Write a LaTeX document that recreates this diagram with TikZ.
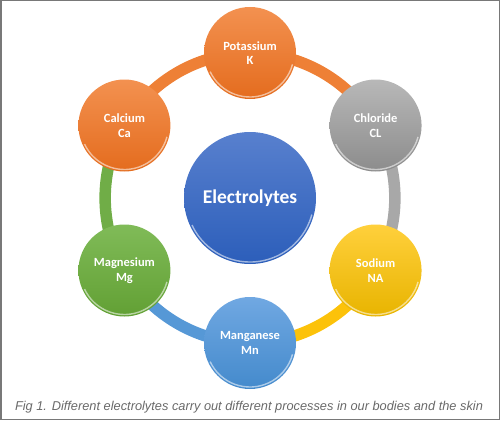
\documentclass[tikz,border=0pt]{standalone}
\usepackage{fontspec}
\usepackage{xcolor}
\usetikzlibrary{positioning,backgrounds,calc}
\newfontfamily\labelfont{Carlito}
\newfontfamily\captionfont{Liberation Sans}
% ball shades
\definecolor{orangeA}{RGB}{243,145,80}
\definecolor{orangeB}{RGB}{228,108,30}
\definecolor{grayA}{RGB}{184,184,184}
\definecolor{grayB}{RGB}{140,140,140}
\definecolor{yellowA}{RGB}{255,208,60}
\definecolor{yellowB}{RGB}{232,180,0}
\definecolor{skyA}{RGB}{112,168,226}
\definecolor{skyB}{RGB}{68,138,204}
\definecolor{leafA}{RGB}{128,187,88}
\definecolor{leafB}{RGB}{98,160,52}
\definecolor{royalA}{RGB}{88,128,206}
\definecolor{royalB}{RGB}{44,94,186}
% ring colours
\definecolor{orangering}{RGB}{238,128,54}
\definecolor{grayring}{RGB}{168,168,168}
\definecolor{yellowring}{RGB}{252,194,10}
\definecolor{skyring}{RGB}{86,152,214}
\definecolor{leafring}{RGB}{112,173,71}
\definecolor{framegray}{RGB}{120,120,120}
\definecolor{captiongray}{RGB}{105,105,105}

\tikzset{
  ball/.style={circle, inner sep=0pt, minimum size=92pt, align=center,
    text=white, top color=#1A, bottom color=#1B,
    font=\labelfont\bfseries\fontsize{12.5}{14.5}\selectfont,
    path picture={\draw[white, opacity=.55, line width=1.4pt]
      let \p1=(path picture bounding box.north east),
          \p2=(path picture bounding box.center),
          \n1={\x1-\x2-2pt} in
      (\p2) ++(205:\n1) arc[start angle=205, end angle=345, radius=\n1];}},
  ring/.style={line width=11.5pt, draw=#1}
}

\begin{document}
\begin{tikzpicture}[x=1pt, y=1pt]
  \useasboundingbox (0,0) rectangle (500,-420);
  \draw[framegray, line width=1.5pt] (0.75,-0.75) rectangle (499.25,-419.25);

  \node[ball=royal, minimum size=132pt,
        font=\labelfont\bfseries\fontsize{19.5}{22}\selectfont]
    (hub) at (250,-198) {Electrolytes};

  \node[ball=orange] (pot) at ([shift={(90:145)}]hub.center) {Potassium\\K};
  \node[ball=gray] (chl) at ([shift={(30:145)}]hub.center) {Chloride\\CL};
  \node[ball=yellow] (sod) at ([shift={(-30:145)}]hub.center) {Sodium\\NA};
  \node[ball=sky] (man) at ([shift={(-90:145)}]hub.center) {Manganese\\Mn};
  \node[ball=leaf] (mag) at ([shift={(-150:145)}]hub.center) {Magnesium\\Mg};
  \node[ball=orange] (cal) at ([shift={(150:145)}]hub.center) {Calcium\\Ca};

  % ring segments behind the balls
  \begin{scope}[on background layer]
    \foreach \from/\to/\col in {pot/chl/orangering, chl/sod/grayring,
        sod/man/yellowring, man/mag/skyring, mag/cal/leafring,
        cal/pot/orangering}
      \draw[ring=\col] (\from.center) to[bend left=30, looseness=0.91] (\to.center);
  \end{scope}

  \node[font=\captionfont\itshape\fontsize{12.8}{15}\selectfont,
        text=captiongray] (caption) at (249,-407)
    {Fig 1. Different electrolytes carry out different processes in our bodies and the skin};
\end{tikzpicture}
\end{document}
